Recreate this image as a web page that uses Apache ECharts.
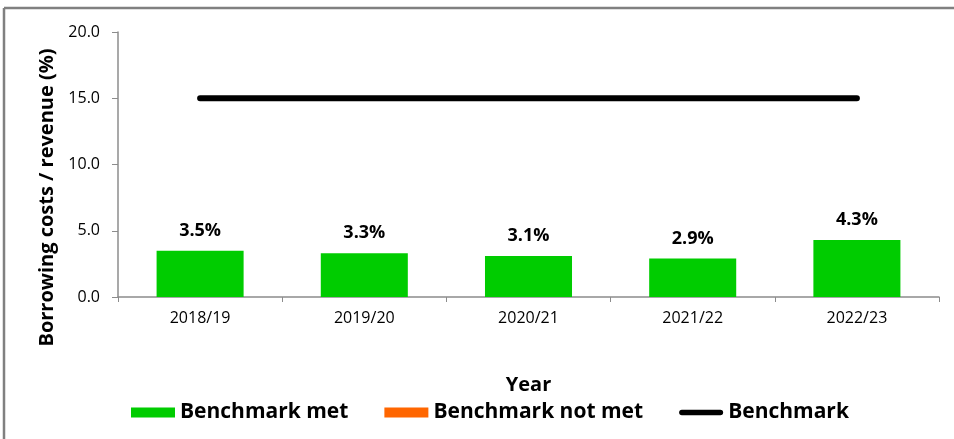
<!DOCTYPE html>
<html>
<head>
<meta charset="utf-8">
<script src="https://cdn.jsdelivr.net/npm/echarts@6/dist/echarts.min.js"></script>
<style>
    html, body { margin: 0; padding: 0; background: #fff; }
    #chart { width: 954px; height: 439px; }
</style>
</head>
<body>
<div id="chart"></div>
<script>
    // 数据
    var years = ['2018/19', '2019/20', '2020/21', '2021/22', '2022/23'];
    var benchmarkMet = [3.5, 3.3, 3.1, 2.9, 4.3];
    var benchmarkNotMet = [null, null, null, null, null];
    var benchmark = [15, 15, 15, 15, 15];
    var yTicks = [0, 5, 20];   // min, interval, max

    var fontName = 'Open Sans';
    var axisColor = '#8c8c8c';

    //图例中的粗线(圆头)
    var lineIcon = 'path://M3,0 L45,0 A3,3 0 0 1 45,6 L3,6 A3,3 0 0 1 3,0 Z';

    var chartObj = echarts.init(document.getElementById('chart'));

    var option = {
        animation: false,
        textStyle: { fontFamily: fontName, color: '#000' },
        grid: {
            left: 118,
            right: 15,
            top: 32,
            bottom: 142
        },
        graphic: [{
            type: 'line',
            shape: { x1: 4, y1: 8, x2: 954, y2: 8 },
            style: { stroke: '#808080', lineWidth: 2.5 }
        }, {
            type: 'line',
            shape: { x1: 4, y1: 8, x2: 4, y2: 439 },
            style: { stroke: '#808080', lineWidth: 2.5 }
        }],
        legend: {
            top: 397,
            left: 126,
            itemWidth: 44,
            itemHeight: 10,
            itemGap: 36,
            symbolKeepAspect: true,
            textStyle: {
                fontFamily: fontName,
                fontWeight: 'bold',
                fontSize: 21,
                color: '#000'
            },
            data: [
                { name: 'Benchmark met', icon: 'rect' },
                { name: 'Benchmark not met', icon: 'rect' },
                { name: 'Benchmark', icon: lineIcon, itemStyle: { color: '#000' } }
            ]
        },
        xAxis: [{
            type: 'category',
            data: years,
            name: 'Year',
            nameLocation: 'middle',
            nameGap: 78,
            nameTextStyle: {
                fontFamily: fontName,
                fontWeight: 'bold',
                fontSize: 20,
                color: '#000'
            },
            axisLine: { lineStyle: { color: axisColor, width: 1.5 } },
            axisTick: { show: true, length: 5, lineStyle: { color: axisColor } },
            axisLabel: {
                margin: 13,
                fontFamily: fontName,
                fontSize: 16,
                color: '#000'
            }
        }],
        yAxis: [{
            type: 'value',
            min: yTicks[0],
            max: yTicks[2],
            interval: yTicks[1],
            name: 'Borrowing costs / revenue (%)',
            nameLocation: 'middle',
            nameGap: 60,
            nameTextStyle: {
                fontFamily: fontName,
                fontWeight: 'bold',
                fontSize: 20,
                color: '#000',
                padding: [0, 66, 0, 0]
            },
            axisLine: { show: true, lineStyle: { color: axisColor, width: 1.5 } },
            axisTick: { show: true, length: 6, lineStyle: { color: axisColor } },
            splitLine: { show: false },
            axisLabel: {
                margin: 18,
                fontFamily: fontName,
                fontSize: 16,
                color: '#000',
                formatter: function (v) { return v.toFixed(1); }
            }
        }],
        series: [{
            name: 'Benchmark met',
            type: 'bar',
            stack: 'bm',
            barWidth: '53%',
            itemStyle: { color: '#00CC00' },
            label: {
                show: true,
                position: 'top',
                distance: 11,
                fontFamily: fontName,
                fontWeight: 'bold',
                fontSize: 18,
                color: '#000',
                formatter: function (p) { return p.value.toFixed(1) + '%'; }
            },
            data: benchmarkMet
        }, {
            name: 'Benchmark not met',
            type: 'bar',
            stack: 'bm',
            barWidth: '53%',
            itemStyle: { color: '#FF6600' },
            data: benchmarkNotMet
        }, {
            name: 'Benchmark',
            type: 'line',
            symbol: 'none',
            showSymbol: false,
            itemStyle: { color: '#000' },
            lineStyle: { color: '#000', width: 6, cap: 'round' },
            data: benchmark
        }]
    };

    chartObj.setOption(option);
</script>
</body>
</html>
